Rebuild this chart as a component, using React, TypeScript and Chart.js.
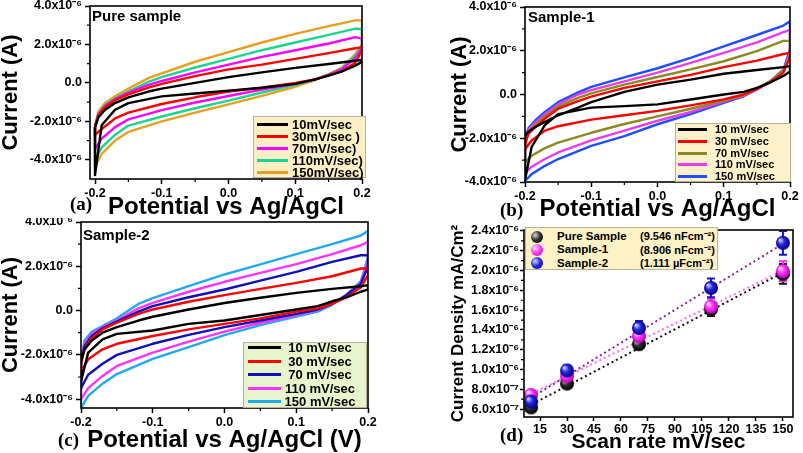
import React, { useEffect, useRef } from "react";
import { Chart, registerables } from "chart.js";
Chart.register(...registerables);

const FONT = '"Liberation Sans", Arial, Helvetica, sans-serif';
const SERIF = '"Liberation Serif", "Times New Roman", serif';

// ---------- CV data (potential in V, current in µA) ----------
const fwdPotential = [-0.2, -0.195, -0.185, -0.17, -0.15, -0.12, -0.1, -0.05, 0, 0.05, 0.1, 0.15, 0.19, 0.2];
const revPotential = [0.2, 0.19, 0.17, 0.15, 0.13, 0.1, 0.05, 0, -0.05, -0.1, -0.15, -0.17, -0.19, -0.2];

// rows: 10, 30, 70, 110, 150 mV/sec
const pureForward = [
  [-2.3, -1.8, -1.4, -1.05, -0.75, -0.45, -0.3, 0.0, 0.3, 0.55, 0.78, 0.98, 1.15, 1.2],
  [-2.3, -1.7, -1.25, -0.9, -0.6, -0.25, -0.05, 0.35, 0.7, 0.95, 1.25, 1.55, 1.8, 1.85],
  [-2.3, -1.65, -1.2, -0.85, -0.5, -0.1, 0.1, 0.55, 0.95, 1.35, 1.7, 2.05, 2.38, 2.3],
  [-2.35, -1.6, -1.15, -0.8, -0.45, 0.05, 0.3, 0.8, 1.25, 1.7, 2.1, 2.5, 2.82, 2.8],
  [-2.2, -1.5, -1.05, -0.7, -0.3, 0.25, 0.5, 1.1, 1.6, 2.1, 2.55, 2.95, 3.25, 3.25],
];
const pureReverse = [
  [1.1, 0.9, 0.6, 0.38, 0.18, -0.05, -0.25, -0.4, -0.55, -0.7, -1.05, -1.4, -2.2, -4.8],
  [1.7, 1.05, 0.6, 0.4, 0.18, 0.0, -0.25, -0.45, -0.75, -1.1, -1.55, -1.85, -2.4, -2.7],
  [1.8, 1.3, 0.72, 0.42, 0.18, -0.05, -0.35, -0.68, -1.02, -1.42, -1.9, -2.3, -2.9, -3.45],
  [1.9, 1.4, 0.75, 0.44, 0.17, -0.1, -0.5, -0.92, -1.32, -1.75, -2.22, -2.7, -3.35, -4.05],
  [2.0, 1.5, 0.8, 0.45, 0.15, -0.2, -0.68, -1.12, -1.55, -2.0, -2.55, -3.0, -3.7, -4.35],
];
const s1Forward = [
  [-1.9, -1.7, -1.5, -1.25, -0.95, -0.6, -0.35, 0.12, 0.45, 0.68, 0.95, 1.12, 1.25, 1.3],
  [-2.3, -1.8, -1.5, -1.1, -0.65, -0.3, -0.1, 0.3, 0.6, 0.9, 1.25, 1.55, 1.85, 1.9],
  [-2.2, -1.7, -1.4, -1.0, -0.55, -0.15, 0.05, 0.45, 0.8, 1.15, 1.52, 1.98, 2.45, 2.45],
  [-2.1, -1.6, -1.3, -0.9, -0.45, 0.0, 0.2, 0.6, 1.0, 1.45, 1.9, 2.38, 2.85, 2.95],
  [-2.0, -1.55, -1.2, -0.8, -0.35, 0.1, 0.35, 0.78, 1.2, 1.67, 2.2, 2.72, 3.15, 3.35],
];
const s1Reverse = [
  [1.05, 0.85, 0.55, 0.3, 0.12, 0.0, -0.23, -0.45, -0.53, -0.6, -0.9, -1.4, -2.4, -3.9],
  [1.7, 1.0, 0.55, 0.25, 0.0, -0.22, -0.5, -0.75, -0.95, -1.15, -1.45, -1.65, -2.1, -2.5],
  [1.8, 1.1, 0.6, 0.25, -0.03, -0.28, -0.65, -1.0, -1.35, -1.75, -2.2, -2.45, -2.8, -3.1],
  [1.9, 1.1, 0.6, 0.25, -0.05, -0.32, -0.8, -1.2, -1.65, -2.1, -2.65, -2.95, -3.3, -3.6],
  [2.05, 1.14, 0.6, 0.23, -0.08, -0.38, -0.9, -1.36, -1.9, -2.35, -2.95, -3.26, -3.64, -3.95],
];
const s2Forward = [
  [-2.3, -1.75, -1.35, -1.0, -0.75, -0.45, -0.28, 0.05, 0.34, 0.58, 0.8, 0.98, 1.1, 1.15],
  [-2.4, -1.7, -1.25, -0.85, -0.55, -0.15, 0.05, 0.4, 0.7, 0.98, 1.25, 1.55, 1.9, 1.9],
  [-2.3, -1.6, -1.15, -0.8, -0.5, -0.05, 0.2, 0.6, 0.95, 1.35, 1.75, 2.2, 2.5, 2.5],
  [-2.3, -1.5, -1.05, -0.75, -0.45, 0.1, 0.35, 0.85, 1.3, 1.7, 2.1, 2.55, 2.95, 3.1],
  [-2.25, -1.35, -0.95, -0.7, -0.35, 0.3, 0.56, 1.1, 1.63, 2.09, 2.55, 3.0, 3.39, 3.6],
];
const s2Reverse = [
  [0.95, 0.85, 0.6, 0.42, 0.2, 0.05, -0.2, -0.45, -0.6, -0.9, -1.05, -1.3, -1.9, -3.2],
  [1.6, 1.05, 0.6, 0.3, 0.1, -0.05, -0.35, -0.6, -0.85, -1.15, -1.5, -1.75, -2.2, -2.75],
  [2.0, 1.2, 0.7, 0.3, 0.05, -0.15, -0.45, -0.75, -1.1, -1.5, -2.0, -2.4, -2.9, -3.5],
  [2.2, 1.25, 0.7, 0.3, 0.02, -0.2, -0.55, -0.95, -1.4, -1.9, -2.5, -2.95, -3.5, -4.0],
  [2.4, 1.33, 0.72, 0.26, -0.05, -0.27, -0.66, -1.11, -1.65, -2.18, -2.87, -3.3, -3.85, -4.4],
];

const pureColors = ["#000000", "#ff0000", "#ff00ff", "#19d68f", "#e6a020"];
const s1Colors = ["#000000", "#ff0000", "#8a8a22", "#e83de8", "#1f4fff"];
const s2Colors = ["#000000", "#ff0000", "#1010b8", "#ff33ff", "#22aaee"];

const legendA = ["10mV/sec", "30mV/sec )", "70mV/sec)", "110mV/sec)", "150mV/sec)"];
const legendBC = ["10 mV/sec", "30 mV/sec", "70 mV/sec", "110 mV/sec", "150 mV/sec"];

const potentialTicks = [-0.2, -0.1, 0, 0.1, 0.2];
const potentialLabels = ["-0.2", "-0.1", "0.0", "0.1", "0.2"];
const potentialMinor = [-0.15, -0.05, 0.05, 0.15];
const currentTicks = [-4, -2, 0, 2, 4];
const currentLabels = ["-4.0x10⁻⁶", "-2.0x10⁻⁶", "0.0", "2.0x10⁻⁶", "4.0x10⁻⁶"];
const currentMinor = [-3, -1, 1, 3];

// ---------- Scan-rate data (current density in µA-scaled units) ----------
const scanRates = [10, 30, 70, 110, 150];
const pureDensity = [0.617, 0.858, 1.256, 1.61, 1.967];
const s1Density = [0.742, 0.934, 1.338, 1.636, 1.994];
const s2Density = [0.676, 0.99, 1.42, 1.825, 2.28];
const pureErr = [0.02, 0.03, 0.05, 0.07, 0.1];
const s1Err = [0.03, 0.04, 0.06, 0.08, 0.1];
const s2Err = [0.03, 0.05, 0.07, 0.095, 0.12];
const fitRates = [8, 150];
const pureFit = [0.624, 1.98];
const s1Fit = [0.735, 2.0];
const s2Fit = [0.692, 2.27];
const sampleNames = ["Pure Sample", "Sample-1", "Sample-2"];
const capacitances = ["(9.546 nFcm⁻²)", "(8.906 nFcm⁻²)", "(1.111 µFcm⁻²)"];
const rateTicks = [15, 30, 45, 60, 75, 90, 105, 120, 135, 150];
const rateLabels = ["15", "30", "45", "60", "75", "90", "105", "120", "135", "150"];
const densityTicks = [0.6, 0.8, 1.0, 1.2, 1.4, 1.6, 1.8, 2.0, 2.2, 2.4];
const densityLabels = ["6.0x10⁻⁷", "8.0x10⁻⁷", "1.0x10⁻⁶", "1.2x10⁻⁶", "1.4x10⁻⁶", "1.6x10⁻⁶", "1.8x10⁻⁶", "2.0x10⁻⁶", "2.2x10⁻⁶", "2.4x10⁻⁶"];
const densityMinor = [0.7, 0.9, 1.1, 1.3, 1.5, 1.7, 1.9, 2.1, 2.3];

// ---------- helpers ----------
function labelFor(ticks: number[], labels: string[], v: number) {
  const i = ticks.findIndex((t) => Math.abs(t - v) < 1e-9);
  return i >= 0 ? labels[i] : "";
}

function loop(fwd: number[], rev: number[]) {
  const pts = fwdPotential.map((x, i) => ({ x, y: fwd[i] }));
  revPotential.forEach((x, i) => pts.push({ x, y: rev[i] }));
  pts.push({ x: fwdPotential[0], y: fwd[0] });
  return pts;
}

const framePlugin = {
  id: "frame",
  afterDatasetsDraw(chart: any, _args: any, opts: any) {
    const { ctx, chartArea: a, scales } = chart;
    ctx.save();
    ctx.strokeStyle = "#000";
    ctx.lineWidth = 1.6;
    ctx.strokeRect(a.left, a.top, a.right - a.left, a.bottom - a.top);
    ctx.lineWidth = 1.2;
    ctx.beginPath();
    (opts.minorX || []).forEach((v: number) => {
      const p = scales.x.getPixelForValue(v);
      ctx.moveTo(p, a.bottom);
      ctx.lineTo(p, a.bottom + 3);
    });
    (opts.minorY || []).forEach((v: number) => {
      const p = scales.y.getPixelForValue(v);
      ctx.moveTo(a.left, p);
      ctx.lineTo(a.left - 3, p);
    });
    ctx.stroke();
    ctx.restore();
  },
};

const errorPlugin = {
  id: "errbars",
  beforeDatasetsDraw(chart: any, _args: any, opts: any) {
    const { ctx, scales } = chart;
    ctx.save();
    ctx.lineWidth = 2;
    (opts.sets || []).forEach((s: any) => {
      ctx.strokeStyle = s.color;
      s.y.forEach((y: number, i: number) => {
        const px = scales.x.getPixelForValue(s.x[i]);
        const top = scales.y.getPixelForValue(y + s.err[i]);
        const bot = scales.y.getPixelForValue(y - s.err[i]);
        ctx.beginPath();
        ctx.moveTo(px, top);
        ctx.lineTo(px, bot);
        ctx.moveTo(px - 4, top);
        ctx.lineTo(px + 4, top);
        ctx.moveTo(px - 4, bot);
        ctx.lineTo(px + 4, bot);
        ctx.stroke();
      });
    });
    ctx.restore();
  },
};

type Spec = {
  cl: number; ct: number; cw: number; ch: number;
  al: number; at: number; ar: number; ab: number;
  yTitleX: number; xTitleY: number;
};

function scalesFor(spec: Spec, o: any) {
  const yWidth = spec.al - spec.cl;
  const xHeight = spec.ct + spec.ch - spec.ab;
  const tickFont = { family: FONT, size: 12.5, weight: "bold", lineHeight: 1 };
  return {
    x: {
      type: "linear",
      position: "bottom",
      min: o.xMin,
      max: o.xMax,
      afterBuildTicks: (s: any) => { s.ticks = o.xTicks.map((v: number) => ({ value: v })); },
      afterFit: (s: any) => { s.height = xHeight; s.paddingLeft = 0; s.paddingRight = 0; },
      ticks: {
        autoSkip: false, maxRotation: 0, minRotation: 0, color: "#000", padding: o.xTickPad,
        font: tickFont, callback: (v: number) => labelFor(o.xTicks, o.xLabels, v),
      },
      grid: { display: true, drawOnChartArea: false, drawTicks: true, tickLength: o.tickLen, tickWidth: 1.5, tickColor: "#000" },
      border: { display: false },
      title: {
        display: true, text: o.xTitle, color: "#000",
        font: { family: FONT, size: o.xTitleSize, weight: "bold", lineHeight: 1 },
        padding: { top: 0, bottom: Math.max(0, spec.ct + spec.ch - o.xTitleSize / 2 - spec.xTitleY) },
      },
    },
    y: {
      type: "linear",
      min: o.yMin,
      max: o.yMax,
      afterBuildTicks: (s: any) => { s.ticks = o.yTicks.map((v: number) => ({ value: v })); },
      afterFit: (s: any) => { s.width = yWidth; s.paddingTop = 0; s.paddingBottom = 0; },
      ticks: {
        autoSkip: false, color: "#000", padding: o.yTickPad, font: tickFont,
        callback: (v: number) => labelFor(o.yTicks, o.yLabels, v),
      },
      grid: { display: true, drawOnChartArea: false, drawTicks: true, tickLength: o.tickLen, tickWidth: 1.5, tickColor: "#000" },
      border: { display: false },
      title: {
        display: true, text: o.yTitle, color: "#000",
        font: { family: FONT, size: o.yTitleSize, weight: "bold", lineHeight: 1 },
        padding: { top: Math.max(0, spec.yTitleX - spec.cl - o.yTitleSize / 2), bottom: 0 },
      },
    },
  };
}

function layoutFor(spec: Spec) {
  return {
    padding: {
      left: 0,
      bottom: 0,
      top: spec.at - spec.ct,
      right: spec.cl + spec.cw - spec.ar,
    },
  };
}

function cvConfig(spec: Spec, fwd: number[][], rev: number[][], colors: string[], labels: string[], xTitle: string, yMin: number, yMax: number, xMin: number) {
  return {
    type: "scatter",
    data: {
      datasets: fwd.map((f, i) => ({
        label: labels[i],
        data: loop(f, rev[i]),
        showLine: true,
        borderColor: colors[i],
        backgroundColor: colors[i],
        borderWidth: 2.4,
        borderJoinStyle: "round",
        pointRadius: 0,
        tension: 0,
      })),
    },
    options: {
      animation: false,
      responsive: false,
      devicePixelRatio: 1,
      layout: layoutFor(spec),
      plugins: { legend: { display: false }, tooltip: { enabled: false }, frame: { minorX: potentialMinor, minorY: currentMinor } },
      scales: scalesFor(spec, {
        xMin, xMax: 0.2, yMin, yMax,
        xTicks: potentialTicks, xLabels: potentialLabels,
        yTicks: currentTicks, yLabels: currentLabels,
        xTitle, xTitleSize: 24, yTitle: "Current (A)", yTitleSize: 22,
        tickLen: 5, xTickPad: 3, yTickPad: 3,
      }),
    },
    plugins: [framePlugin],
  };
}

function sphere(light: string, mid: string, dark: string, r = 7) {
  const c = document.createElement("canvas");
  c.width = c.height = 2 * r + 2;
  const ctx = c.getContext("2d")!;
  const g = ctx.createRadialGradient(r * 0.7, r * 0.7, 0.5, r + 1, r + 1, r);
  g.addColorStop(0, light);
  g.addColorStop(0.45, mid);
  g.addColorStop(1, dark);
  ctx.fillStyle = g;
  ctx.beginPath();
  ctx.arc(r + 1, r + 1, r, 0, Math.PI * 2);
  ctx.fill();
  return c;
}

const specA: Spec = { cl: 0, ct: 0, cw: 395, ch: 222, al: 90, at: 6, ar: 362, ab: 179, yTitleX: 11, xTitleY: 207 };
const specB: Spec = { cl: 448, ct: 0, cw: 355, ch: 225, al: 525, at: 7, ar: 790, ab: 182, yTitleX: 460, xTitleY: 209 };
const specC: Spec = { cl: 0, ct: 218, cw: 395, ch: 235, al: 81, at: 222, ar: 368, ab: 408, yTitleX: 11, xTitleY: 440 };
const specD: Spec = { cl: 440, ct: 222, cw: 363, ch: 231, al: 524, at: 227, ar: 793, ab: 417, yTitleX: 458, xTitleY: 443 };

function densityConfig() {
  const balls = [
    sphere("#d8d8d8", "#303030", "#000000"),
    sphere("#ffe6ff", "#ff3cff", "#b800b8"),
    sphere("#d6d6ff", "#2a2ae0", "#00008a"),
  ];
  const fitLine = (vals: number[], color: string) => ({
    data: fitRates.map((x, i) => ({ x, y: vals[i] })),
    showLine: true, borderColor: color, borderWidth: 2, borderDash: [2, 3], pointRadius: 0,
  });
  const pts = (vals: number[], ball: HTMLCanvasElement) => ({
    data: scanRates.map((x, i) => ({ x, y: vals[i] })),
    showLine: false, pointStyle: ball, pointRadius: 7,
  });
  return {
    type: "scatter",
    data: {
      datasets: [
        pts(s2Density, balls[2]),
        pts(s1Density, balls[1]),
        pts(pureDensity, balls[0]),
        fitLine(s2Fit, "#8a1ea0"),
        fitLine(s1Fit, "#ff66ff"),
        fitLine(pureFit, "#111111"),
      ],
    },
    options: {
      animation: false,
      responsive: false,
      devicePixelRatio: 1,
      layout: layoutFor(specD),
      plugins: {
        legend: { display: false }, tooltip: { enabled: false },
        frame: { minorY: densityMinor },
        errbars: {
          sets: [
            { x: scanRates, y: pureDensity, err: pureErr, color: "#111111" },
            { x: scanRates, y: s1Density, err: s1Err, color: "#ff22ff" },
            { x: scanRates, y: s2Density, err: s2Err, color: "#1515c8" },
          ],
        },
      },
      scales: scalesFor(specD, {
        xMin: 6.1, xMax: 155.6, yMin: 0.52, yMax: 2.41,
        xTicks: rateTicks, xLabels: rateLabels,
        yTicks: densityTicks, yLabels: densityLabels,
        xTitle: "Scan rate mV/sec", xTitleSize: 21, yTitle: "Current Density mA/Cm²", yTitleSize: 17,
        tickLen: 4, xTickPad: 2, yTickPad: 1,
      }),
    },
    plugins: [errorPlugin, framePlugin],
  };
}

function ChartBox({ spec, build }: { spec: Spec; build: () => any }) {
  const ref = useRef<HTMLCanvasElement>(null);
  useEffect(() => {
    const chart = new Chart(ref.current as HTMLCanvasElement, build());
    return () => chart.destroy();
  }, []);
  return (
    <canvas
      ref={ref}
      width={spec.cw}
      height={spec.ch}
      style={{ position: "absolute", left: spec.cl, top: spec.ct, width: spec.cw, height: spec.ch }}
    />
  );
}

function CvLegend(props: {
  left: number; top: number; width: number; height: number; bg: string;
  rows: number[]; lineX: number; lineW: number; textX: number; textW?: number; center?: boolean;
  size: number; labels: string[]; colors: string[];
}) {
  const { left, top, width, height, bg, rows, lineX, lineW, textX, textW, center, size, labels, colors } = props;
  return (
    <>
      <div style={{ position: "absolute", left, top, width, height, background: bg, border: "1px solid #b9b29a", boxSizing: "border-box" }} />
      {labels.map((l, i) => (
        <React.Fragment key={l}>
          <div style={{ position: "absolute", left: lineX, top: rows[i] - 1.5, width: lineW, height: 3, background: colors[i] }} />
          <div
            style={{
              position: "absolute", left: textX, top: rows[i] - size / 2 - 1, width: textW, textAlign: center ? "center" : "left",
              font: `bold ${size}px ${FONT}`, lineHeight: `${size + 2}px`, whiteSpace: "nowrap", color: "#000",
            }}
          >
            {l}
          </div>
        </React.Fragment>
      ))}
    </>
  );
}

function Txt(props: { left: number; top: number; size: number; text: string; serif?: boolean }) {
  return (
    <div
      style={{
        position: "absolute", left: props.left, top: props.top - props.size / 2,
        font: `bold ${props.size}px ${props.serif ? SERIF : FONT}`, lineHeight: `${props.size}px`, whiteSpace: "nowrap", color: "#000",
      }}
    >
      {props.text}
    </div>
  );
}

const ballCss = [
  "radial-gradient(circle at 35% 35%, #d8d8d8 0%, #303030 45%, #000 100%)",
  "radial-gradient(circle at 35% 35%, #ffe6ff 0%, #ff3cff 45%, #b800b8 100%)",
  "radial-gradient(circle at 35% 35%, #d6d6ff 0%, #2a2ae0 45%, #00008a 100%)",
];

export default function App() {
  return (
    <div style={{ position: "absolute", left: 0, top: 0, width: 803, height: 453, background: "#fff", overflow: "hidden" }}>
      <ChartBox spec={specA} build={() => cvConfig(specA, pureForward, pureReverse, pureColors, legendA, "Potential vs Ag/AgCl", -5, 4, -0.2075)} />
      <ChartBox spec={specB} build={() => cvConfig(specB, s1Forward, s1Reverse, s1Colors, legendBC, "Potential vs Ag/AgCl", -4, 4, -0.2)} />
      <ChartBox spec={specC} build={() => cvConfig(specC, s2Forward, s2Reverse, s2Colors, legendBC, "Potential vs Ag/AgCl (V)", -4.4, 4, -0.2)} />
      <ChartBox spec={specD} build={densityConfig} />

      <Txt left={92} top={15} size={15} text="Pure sample" />
      <Txt left={528} top={16} size={15} text="Sample-1" />
      <Txt left={83} top={234} size={15} text="Sample-2" />

      <Txt left={70} top={203} size={19} text="(a)" serif />
      <Txt left={500} top={209} size={19} text="(b)" serif />
      <Txt left={58} top={439} size={19} text="(c)" serif />
      <Txt left={500} top={434} size={19} text="(d)" serif />

      <CvLegend left={253} top={116} width={113} height={62} bg="#fcefc6" rows={[124, 136, 148, 160, 172]}
        lineX={257} lineW={31} textX={292} size={13} labels={legendA} colors={pureColors} />
      <CvLegend left={675} top={123} width={116} height={59} bg="#fcf1cb" rows={[129, 141, 153, 164.5, 176]}
        lineX={678} lineW={29} textX={715} size={11} labels={legendBC} colors={s1Colors} />
      <CvLegend left={243} top={342} width={124} height={66} bg="#e8f4cc" rows={[347.5, 361, 374.5, 388, 401]}
        lineX={248} lineW={33} textX={283} textW={74} center size={13} labels={legendBC} colors={s2Colors} />

      <div style={{ position: "absolute", left: 525, top: 227, width: 193, height: 43, background: "#fdf1c6", border: "1px solid #b9b29a", boxSizing: "border-box" }} />
      {sampleNames.map((n, i) => (
        <React.Fragment key={n}>
          <div style={{ position: "absolute", left: 531, top: 236.7 + i * 13.3 - 6, width: 12, height: 12, borderRadius: "50%", background: ballCss[i] }} />
          <Txt left={557} top={236.7 + i * 13.3} size={11.5} text={n} />
          <Txt left={640} top={236.7 + i * 13.3} size={11} text={capacitances[i]} />
        </React.Fragment>
      ))}
    </div>
  );
}
